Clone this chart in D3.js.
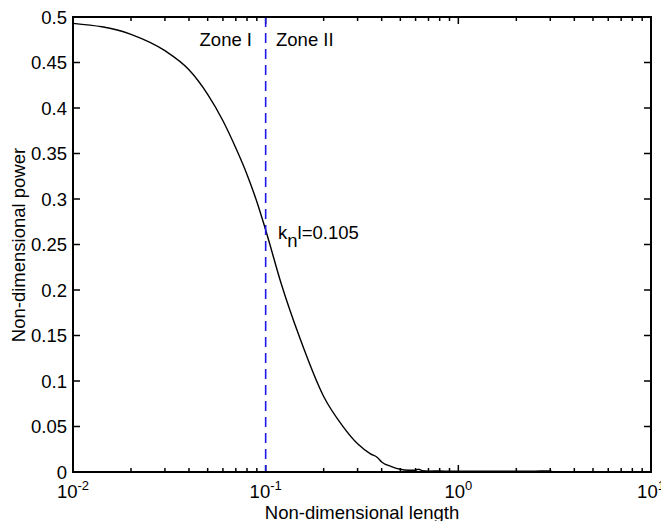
<!DOCTYPE html>
<html><head><meta charset="utf-8">
<script src="https://cdn.jsdelivr.net/npm/d3@7"></script>
<style>
body{margin:0;background:#fff;}
text{font-family:"Liberation Sans",Arial,Helvetica,sans-serif;}
</style></head>
<body><svg id="c" width="661" height="521"></svg>
<script>
const lengthValues = [0.01,0.02,0.03,0.04,0.05,0.06,0.07,0.08,0.09,0.10,0.12,0.15,0.2,0.25,0.3,0.35,0.38,0.4,0.45,0.5,0.55,0.6,0.62,0.65,0.7,0.8,0.9,1.0,1.2,1.5,2.0,2.5,3.0,3.1,4,6,10];
const powerValues  = [0.493,0.481,0.463,0.442,0.415,0.386,0.356,0.327,0.297,0.266,0.208,0.148,0.083,0.051,0.031,0.020,0.016,0.011,0.006,0.003,0.002,0.002,0.003,0.0015,0.001,0.0012,0.0008,0.001,0.0009,0.001,0.0008,0.001,0.0012,0.0003,0.0002,0.0002,0.0002];
const yTicks = [0,0.05,0.1,0.15,0.2,0.25,0.3,0.35,0.4,0.45,0.5];
const xDecades = [-2,-1,0,1];
const zoneBoundary = 0.1;
const annotationText = "=0.105";

const FS = 18.5;
const svg = d3.select("#c");
const L=73, R=651, T=17, B=472;
const x = d3.scaleLog().domain([0.01,10]).range([L,R]);
const y = d3.scaleLinear().domain([0,0.5]).range([B,T]);

const xt = [];
for (let d=-2; d<1; d++) for (let m=1; m<10; m++) xt.push({v:m*Math.pow(10,d), major:m===1});
xt.push({v:10,major:true});
const g = svg.append("g");
xt.forEach(t=>{
  const px = x(t.v), len = t.major?7:4;
  g.append("line").attr("x1",px).attr("x2",px).attr("y1",B).attr("y2",B-len).attr("stroke","#000").attr("stroke-width",1.5);
  g.append("line").attr("x1",px).attr("x2",px).attr("y1",T).attr("y2",T+len).attr("stroke","#000").attr("stroke-width",1.5);
});
yTicks.forEach(v=>{
  const py=y(v);
  g.append("line").attr("x1",L).attr("x2",L+7).attr("y1",py).attr("y2",py).attr("stroke","#000").attr("stroke-width",1.5);
  g.append("line").attr("x1",R).attr("x2",R-7).attr("y1",py).attr("y2",py).attr("stroke","#000").attr("stroke-width",1.5);
  g.append("text").attr("x",L-6).attr("y",py+6.5).attr("text-anchor","end").attr("font-size",FS).text(String(v));
});
xDecades.forEach(d=>{
  const t = g.append("text").attr("x",x(Math.pow(10,d))).attr("y",498).attr("text-anchor","middle").attr("font-size",FS);
  t.append("tspan").text("10");
  t.append("tspan").attr("dy",-8).attr("font-size",13).text(String(d));
});

const line = d3.line().x((d,i)=>x(lengthValues[i])).y((d,i)=>y(powerValues[i])).curve(d3.curveMonotoneX);
svg.append("path").datum(powerValues).attr("d",line).attr("fill","none").attr("stroke","#000").attr("stroke-width",1.4);

svg.append("line").attr("x1",x(zoneBoundary)).attr("x2",x(zoneBoundary)).attr("y1",T).attr("y2",B)
  .attr("stroke","#1a1aee").attr("stroke-width",1.6).attr("stroke-dasharray","10,6");

svg.append("rect").attr("x",L).attr("y",T).attr("width",R-L).attr("height",B-T).attr("fill","none").attr("stroke","#000").attr("stroke-width",2);

svg.append("text").attr("x",252).attr("y",46).attr("text-anchor","end").attr("font-size",FS).text("Zone I");
svg.append("text").attr("x",276).attr("y",46).attr("font-size",FS).text("Zone II");
const ann = svg.append("text").attr("x",278).attr("y",239).attr("font-size",FS);
ann.append("tspan").text("k");
ann.append("tspan").attr("dy",8).text("n");
ann.append("tspan").attr("dy",-8).text("l"+annotationText);

svg.append("text").attr("x",362).attr("y",519).attr("text-anchor","middle").attr("font-size",FS).text("Non-dimensional length");
svg.append("text").attr("transform","translate(25,245) rotate(-90)").attr("text-anchor","middle").attr("font-size",FS).text("Non-dimensional power");
</script></body></html>
